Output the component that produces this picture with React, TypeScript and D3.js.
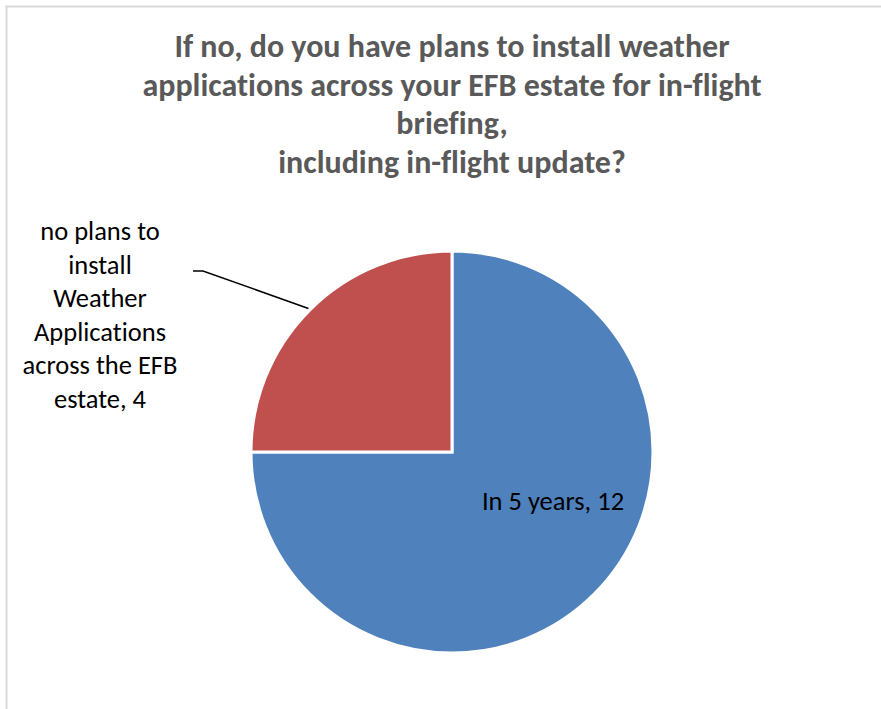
import React from "react";
import * as d3 from "d3";

const categories = ["In 5 years", "no plans to install Weather Applications across the EFB estate"];
const values = [12, 4];
const colors = ["#4f81bd", "#c0504d"];
const titleLines = [
  "If no, do you have plans to install weather",
  "applications across your EFB estate for in-flight",
  "briefing,",
  "including in-flight update?",
];
const redLabelLines = ["no plans to", "install", "Weather", "Applications", "across the EFB", "estate, 4"];

export default function App() {
  const W = 881, H = 709;
  const cx = 452, cy = 452, r = 201;
  const pie = d3.pie<number>().sort(null).startAngle(0).endAngle(2 * Math.PI);
  const arcs = pie(values);
  const arc = d3.arc<d3.PieArcDatum<number>>().innerRadius(0).outerRadius(r);
  const edge = d3.arc<d3.PieArcDatum<number>>().innerRadius(r + 2).outerRadius(r + 2);
  const redEdge = edge.centroid(arcs[1]);
  const font = "Carlito, Calibri, Lato, 'Open Sans', sans-serif";
  return (
    <svg width={W} height={H} style={{ position: "absolute", left: 0, top: 0, background: "#fff", fontVariantLigatures: "none" }}>
      <rect x={6.5} y={6.5} width={W + 20} height={H + 20} fill="#fff" stroke="#d9d9d9" strokeWidth={2} />
      <g fontFamily={font} fontWeight="bold" fontSize={32} fill="#595959" textAnchor="middle">
        {titleLines.map((t, i) => (
          <text key={i} x={452} y={57 + i * 38.6}>{t}</text>
        ))}
      </g>
      <g transform={`translate(${cx},${cy})`}>
        {arcs.map((a, i) => (
          <path key={categories[i]} d={arc(a) || ""} fill={colors[i]} stroke="#fff" strokeWidth={3} />
        ))}
      </g>
      <polyline
        points={`193,271 203,271 ${cx + redEdge[0]},${cy + redEdge[1]}`}
        fill="none"
        stroke="#000"
        strokeWidth={1.5}
      />
      <g fontFamily={font} fontSize={26.5} fill="#000" textAnchor="middle">
        {redLabelLines.map((t, i) => (
          <text key={i} x={100} y={240 + i * 33.6}>{t}</text>
        ))}
        <text x={553} y={510}>{`${categories[0]}, ${values[0]}`}</text>
      </g>
    </svg>
  );
}
